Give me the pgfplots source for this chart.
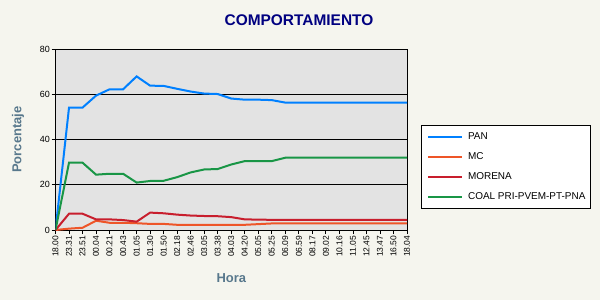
\documentclass[border=0pt]{standalone}
\usepackage{fontspec}
\setmainfont{Liberation Sans}
\usepackage{pgfplots}
\pgfplotsset{compat=1.18}
\definecolor{bgc}{RGB}{245,245,238}
\definecolor{plotbg}{RGB}{227,227,227}
\definecolor{titlec}{RGB}{0,0,128}
\definecolor{labc}{RGB}{88,120,140}
\definecolor{panc}{RGB}{0,128,255}
\definecolor{mcc}{RGB}{238,85,40}
\definecolor{morc}{RGB}{200,30,45}
\definecolor{coalc}{RGB}{25,150,70}
\begin{document}
\begin{tikzpicture}[x=1bp,y=1bp]
\path[use as bounding box, fill=bgc] (0,0) rectangle (600,300);
\begin{axis}[
  at={(55.5bp,70bp)}, anchor=south west,
  scale only axis, width=351.5bp, height=180.7bp,
  xmin=0, xmax=26, ymin=0, ymax=80,
  axis background/.style={fill=plotbg},
  axis line style={black, line width=1bp},
  ymajorgrids, major grid style={black, line width=0.9bp},
  xtick={0,...,26},
  xticklabels={18.00,23.31,23.51,00.04,00.21,00.43,01.05,01.30,01.50,02.18,02.46,03.05,03.38,04.03,04.20,05.05,05.25,06.09,06.59,08.17,09.02,10.16,11.05,12.45,13.47,16.50,18.04},
  ytick={0,20,40,60,80},
  tick pos=left, tick align=outside, major tick length=4bp,
  tick style={black, line width=0.8bp},
  /pgf/number format/assume math mode=true,
  x tick label style={rotate=90, anchor=east, font=\fontsize{8.5}{10}\selectfont, inner sep=1.5bp},
  y tick label style={font=\fontsize{9}{10}\selectfont, inner sep=1.5bp},
  title={COMPORTAMIENTO},
  title style={at={(axis description cs:0.6927,1.0973)}, anchor=base, yshift=0pt, font=\bfseries\fontsize{15.5}{18}\selectfont, text=titlec},
  xlabel={Hora},
  xlabel style={at={(axis description cs:0.5,-0.2917)}, anchor=base, font=\bfseries\fontsize{13}{15}\selectfont, text=labc},
  ylabel={Porcentaje},
  ylabel style={at={(axis description cs:-0.1067,0.5)}, anchor=center, font=\bfseries\fontsize{13}{15}\selectfont, text=labc},
  legend style={at={(axis description cs:1.04,0.581)}, anchor=north west, draw=black, line width=1bp, fill=white,
    inner xsep=5.5bp, inner ysep=7bp, row sep=11.7bp, column sep=5bp,
    font=\fontsize{10}{12}\selectfont, nodes={inner sep=0pt}},
  legend cell align=left,
  legend image code/.code={\draw[#1] (0bp,0bp) -- (34bp,0bp);},
  every axis plot/.append style={line width=2bp, no marks},
]
\addplot[panc] coordinates {(0,0) (1,54.2) (2,54.2) (3,59.5) (4,62.3) (5,62.3) (6,68.0) (7,63.9) (8,63.8) (9,62.5) (10,61.3) (11,60.4) (12,60.2) (13,58.2) (14,57.7) (15,57.7) (16,57.5) (17,56.4) (18,56.4) (19,56.4) (20,56.4) (21,56.4) (22,56.4) (23,56.4) (24,56.4) (25,56.4) (26,56.4)};
\addlegendentry{PAN}
\addplot[mcc] coordinates {(0,0) (1,0.6) (2,1.0) (3,4.1) (4,3.2) (5,3.2) (6,3.0) (7,2.7) (8,2.7) (9,2.3) (10,2.3) (11,2.3) (12,2.3) (13,2.3) (14,2.3) (15,2.6) (16,2.9) (17,2.9) (18,2.9) (19,2.9) (20,2.9) (21,2.9) (22,2.9) (23,2.9) (24,2.9) (25,2.9) (26,2.9)};
\addlegendentry{MC}
\addplot[morc] coordinates {(0,0) (1,7.2) (2,7.2) (3,4.7) (4,4.7) (5,4.4) (6,3.7) (7,7.7) (8,7.4) (9,6.8) (10,6.4) (11,6.2) (12,6.1) (13,5.7) (14,4.7) (15,4.6) (16,4.5) (17,4.5) (18,4.5) (19,4.5) (20,4.5) (21,4.5) (22,4.5) (23,4.5) (24,4.5) (25,4.5) (26,4.5)};
\addlegendentry{MORENA}
\addplot[coalc] coordinates {(0,0) (1,29.8) (2,29.8) (3,24.5) (4,24.9) (5,24.9) (6,21.0) (7,21.7) (8,21.8) (9,23.4) (10,25.5) (11,26.8) (12,27.0) (13,29.0) (14,30.5) (15,30.5) (16,30.5) (17,32.0) (18,32.0) (19,32.0) (20,32.0) (21,32.0) (22,32.0) (23,32.0) (24,32.0) (25,32.0) (26,32.0)};
\addlegendentry{COAL PRI-PVEM-PT-PNA}
\end{axis}
\end{tikzpicture}
\end{document}
